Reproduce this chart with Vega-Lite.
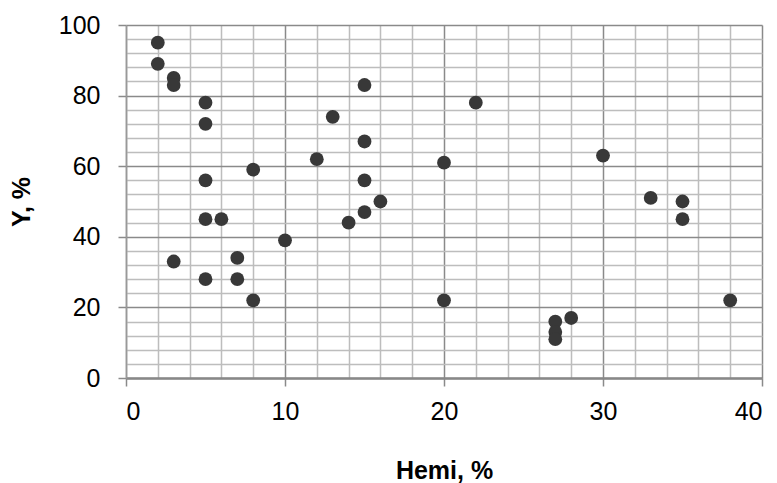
{
  "$schema": "https://vega.github.io/schema/vega-lite/v6.json",
  "width": 636,
  "height": 353,
  "autosize": {"type": "none"},
  "padding": {"left": 126, "top": 25, "right": 15, "bottom": 105},
  "background": "white",
  "config": {"view": {"stroke": null}, "font": "Liberation Sans"},
  "data": {
    "values": [
      {"hemi": 2, "y": 95}, {"hemi": 2, "y": 89}, {"hemi": 3, "y": 85}, {"hemi": 3, "y": 83},
      {"hemi": 5, "y": 78}, {"hemi": 5, "y": 72}, {"hemi": 5, "y": 56}, {"hemi": 5, "y": 45},
      {"hemi": 6, "y": 45}, {"hemi": 3, "y": 33}, {"hemi": 5, "y": 28}, {"hemi": 7, "y": 34},
      {"hemi": 7, "y": 28}, {"hemi": 8, "y": 22}, {"hemi": 8, "y": 59}, {"hemi": 10, "y": 39},
      {"hemi": 12, "y": 62}, {"hemi": 13, "y": 74}, {"hemi": 15, "y": 83}, {"hemi": 15, "y": 67},
      {"hemi": 15, "y": 56}, {"hemi": 15, "y": 47}, {"hemi": 14, "y": 44}, {"hemi": 16, "y": 50},
      {"hemi": 20, "y": 61}, {"hemi": 20, "y": 22}, {"hemi": 22, "y": 78}, {"hemi": 27, "y": 16},
      {"hemi": 27, "y": 13}, {"hemi": 27, "y": 11}, {"hemi": 28, "y": 17}, {"hemi": 30, "y": 63},
      {"hemi": 33, "y": 51}, {"hemi": 35, "y": 50}, {"hemi": 35, "y": 45}, {"hemi": 38, "y": 22}
    ]
  },
  "layer": [
    {
      "mark": {"type": "circle", "size": 190, "color": "#383838", "opacity": 1},
      "encoding": {
        "x": {
          "field": "hemi", "type": "quantitative",
          "scale": {"domain": [0, 40], "nice": false, "zero": true},
          "axis": {
            "orient": "bottom",
            "values": [2, 4, 6, 8, 12, 14, 16, 18, 22, 24, 26, 28, 32, 34, 36, 38],
            "grid": true, "gridColor": "#bdbdbd", "gridWidth": 1.5,
            "labels": false, "ticks": false, "domain": false, "title": null
          }
        },
        "y": {
          "field": "y", "type": "quantitative",
          "scale": {"domain": [0, 100], "nice": false},
          "axis": {
            "orient": "left",
            "values": [4, 8, 12, 16, 24, 28, 32, 36, 44, 48, 52, 56, 64, 68, 72, 76, 84, 88, 92, 96],
            "grid": true, "gridColor": "#bdbdbd", "gridWidth": 1.5,
            "labels": false, "ticks": false, "domain": false, "title": null
          }
        }
      }
    },
    {
      "mark": {"type": "circle", "size": 190, "opacity": 0},
      "encoding": {
        "x": {
          "field": "hemi", "type": "quantitative",
          "axis": {
            "orient": "bottom",
            "values": [0, 10, 20, 30, 40],
            "grid": true, "gridColor": "#8a8a8a", "gridWidth": 1.5,
            "ticks": true, "tickColor": "#8a8a8a", "tickSize": 8, "tickWidth": 1.5,
            "domain": true, "domainColor": "#888888", "domainWidth": 2.5,
            "labelFontSize": 25, "labelColor": "#000000", "labelPadding": 13,
            "title": "Hemi, %", "titleFontSize": 25, "titleFontWeight": "bold",
            "titleColor": "#000000", "titlePadding": 34
          }
        },
        "y": {
          "field": "y", "type": "quantitative",
          "axis": {
            "orient": "left",
            "values": [0, 20, 40, 60, 80, 100],
            "grid": true, "gridColor": "#8a8a8a", "gridWidth": 1.5,
            "ticks": true, "tickColor": "#8a8a8a", "tickSize": 8, "tickWidth": 1.5,
            "domain": true, "domainColor": "#999999", "domainWidth": 1.5,
            "labelFontSize": 25, "labelColor": "#000000", "labelPadding": 18,
            "title": "Y, %", "titleFontSize": 25, "titleFontWeight": "bold",
            "titleColor": "#000000", "titlePadding": 24
          }
        }
      }
    }
  ],
  "resolve": {"axis": {"x": "independent", "y": "independent"}}
}
